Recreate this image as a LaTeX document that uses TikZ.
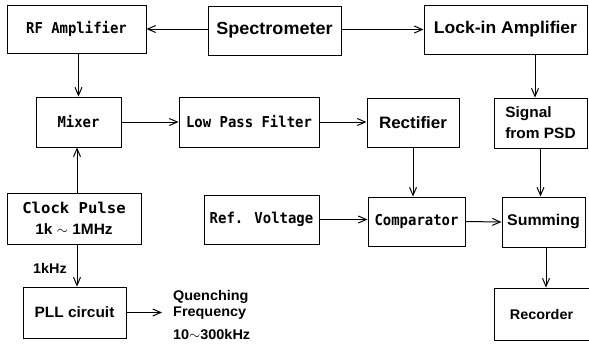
\documentclass[tikz,border=0pt]{standalone}
\usepackage{fontspec}
\usepackage{tikz}
\usetikzlibrary{arrows.meta, positioning}
\usepackage{xcolor}

\newfontfamily\gothic{Liberation Sans}[FakeStretch=1.03]
\newfontfamily\monog{DejaVu Sans Mono}[FakeStretch=0.93]
\newfontfamily\monow{DejaVu Sans Mono}[FakeStretch=1.04]
\newcommand{\gt}[1]{\gothic\bfseries\fontsize{#1}{#1}\selectfont}
\newcommand{\mt}[1]{\monog\bfseries\fontsize{#1}{#1}\selectfont}

\tikzset{
  blk/.style={draw, rectangle, line width=1pt, inner sep=0pt},
  arr/.style={draw, line width=1pt, -{Straight Barb[length=8pt, width=7pt, line width=1pt]}},
  lbl/.style={inner sep=0pt, align=left}
}

\begin{document}
\begin{tikzpicture}[x=1pt, y=-1pt]
            \useasboundingbox (0,0) rectangle (589,343);
            % top row
            \node[blk, minimum width=139pt, minimum height=48pt, font=\mt{15}] (rfamp) at (76.5,29) {RF Amplifier};
            \node[blk, minimum width=133pt, minimum height=49pt, font=\gt{17.5}] (spectro) at (274.5,30.5) {Spectrometer};
            \node[blk, minimum width=163pt, minimum height=49pt, font=\gt{17}] (lockin) at (505.5,29.5) {Lock-in Amplifier};
            % second row
            \node[blk, minimum width=85pt, minimum height=50pt, font=\mt{15}] (mixer) at (78.5,122) {Mixer};
            \node[blk, minimum width=140pt, minimum height=50pt, font=\mt{15}] (lpf) at (249,122) {Low Pass Filter};
            \node[blk, minimum width=92pt, minimum height=49pt, font=\gt{16.5}] (rectif) at (413,122.5) {Rectifier};
            \node[blk, minimum width=93pt, minimum height=50pt, font=\gt{15}, align=left] (psd) at (540.5,123) {Signal\\[6pt]from PSD};
            % third row
            \node[blk, minimum width=134pt, minimum height=51pt, align=center] (clock) at (74,218.5) {{\monow\bfseries\fontsize{15}{15}\selectfont Clock Pulse}\\[9pt]{\gt{15}1k $\sim$ 1MHz}};
            \node[blk, minimum width=115pt, minimum height=49pt, font=\mt{15}] (refv) at (261.5,219.5) {Ref. Voltage};
            \node[blk, minimum width=97pt, minimum height=49pt, font=\mt{15}] (compar) at (416.5,221.5) {Comparator};
            \node[blk, minimum width=83pt, minimum height=50pt, font=\gt{15.5}] (summing) at (543.5,222) {Summing};
            % bottom row
            \node[blk, minimum width=103pt, minimum height=51pt, font=\gt{15}] (pll) at (74.5,312.5) {PLL circuit};
            \node[blk, minimum width=95pt, minimum height=52pt, font=\gt{14}] (recorder) at (541.5,314) {Recorder};
            \node[lbl, anchor=west, font=\gt{14}] (quench) at (173,315) {Quenching\\[2pt]Frequency\\[9pt]10$\sim$300kHz};
            \node[lbl, font=\gt{14}] (onek) at (50,268) {1kHz};

            % connectors
            \path[arr] (spectro.west |- rfamp.east) -- (rfamp.east);
            \path[arr] (spectro.east |- lockin.west) -- (lockin.west);
            \path[arr] (rfamp.south -| mixer.north) -- (mixer.north);
            \path[arr] ([xshift=3pt]clock.north) -- ([xshift=3pt]clock.north |- mixer.south);
            \path[arr] (mixer.east) -- (lpf.west);
            \path[arr] (lpf.east) -- (lpf.east -| rectif.west);
            \path[arr] ([xshift=-5.5pt]psd.north |- lockin.south) -- ([xshift=-5.5pt]psd.north);
            \path[arr] (rectif.south) -- (rectif.south |- compar.north);
            \path[arr] (psd.south) -- (psd.south |- summing.north);
            \path[arr] (refv.east) -- (refv.east -| compar.west);
            \path[arr] (compar.east) -- (summing.west);
            \path[arr] ([xshift=2.5pt]summing.south) -- ([xshift=2.5pt]summing.south |- recorder.north);
            \path[arr] ([xshift=3pt]clock.south) -- ([xshift=3pt]clock.south |- pll.north);
            \path[arr] (pll.east) -- ([xshift=-11pt]quench.west |- pll.east);
        \end{tikzpicture}
\end{document}
